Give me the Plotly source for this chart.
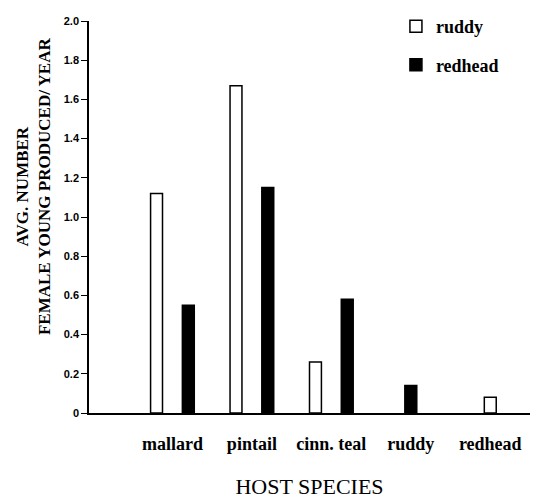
import plotly.graph_objects as go

categories = ["mallard", "pintail", "cinn. teal", "ruddy", "redhead"]
ruddy_values = [1.12, 1.67, 0.26, None, 0.08]
redhead_values = [0.55, 1.15, 0.58, 0.14, None]
y_tick_vals = [0, 0.2, 0.4, 0.6, 0.8, 1.0, 1.2, 1.4, 1.6, 1.8, 2.0]
y_tick_text = ["0", "0.2", "0.4", "0.6", "0.8", "1.0", "1.2", "1.4", "1.6", "1.8", "2.0"]
y_title = "AVG. NUMBER<br>FEMALE YOUNG PRODUCED/ YEAR"
x_title = "HOST SPECIES"

BAR_W = 0.15
HALF_GAP = 0.2  # centre offset of each bar in a pair


def offsets(own, other, side):
    out = []
    for a, b in zip(own, other):
        if b is None:
            out.append(-BAR_W / 2)
        else:
            out.append(side * HALF_GAP - BAR_W / 2)
    return out


serif = "Liberation Serif, Times New Roman, serif"
sans = "Liberation Sans, Arial, sans-serif"

fig = go.Figure()
fig.add_trace(go.Bar(
    x=categories, y=ruddy_values, name="ruddy",
    width=BAR_W, offset=offsets(ruddy_values, redhead_values, -1),
    marker=dict(color="white", line=dict(color="black", width=1.5)),
    legendgroup="a",
))
fig.add_trace(go.Bar(
    x=categories, y=redhead_values, name="redhead",
    width=BAR_W, offset=offsets(redhead_values, ruddy_values, 1),
    marker=dict(color="black", line=dict(color="black", width=1.5)),
    legendgroup="b",
))

# page has an 8px body margin, so the figure is 8px smaller than the window
fig.update_layout(
    width=537, height=491,
    margin=dict(l=81, r=15, t=13, b=86, autoexpand=False),
    plot_bgcolor="white", paper_bgcolor="white",
    barmode="overlay",
    showlegend=True,
    legend=dict(x=0.696, y=1.033, xanchor="left", yanchor="top",
                font=dict(family=serif, size=18, color="black", weight="bold"),
                tracegroupgap=12, itemwidth=30, bgcolor="rgba(0,0,0,0)"),
    xaxis=dict(
        range=[-1.05, 4.5], showline=True, linecolor="black", linewidth=1.5,
        ticks="outside", ticklen=14, tickcolor="rgba(0,0,0,0)",
        tickfont=dict(family=serif, size=18, color="black", weight="bold"),
        title=dict(text=x_title, standoff=26,
                   font=dict(family=serif, size=22, color="black")),
        showgrid=False, zeroline=False, automargin=False,
    ),
    yaxis=dict(
        range=[0, 2.0], showline=True, linecolor="black", linewidth=1.5,
        tickvals=y_tick_vals, ticktext=y_tick_text,
        ticks="outside", ticklen=6, tickcolor="black", tickwidth=1.2,
        tickfont=dict(family=sans, size=11, color="black", weight="bold"),
        showgrid=False, zeroline=False, automargin=False,
    ),
    annotations=[dict(
        text=y_title, textangle=-90, xref="paper", yref="paper",
        x=-0.127, y=0.579, xanchor="center", yanchor="middle", showarrow=False,
        font=dict(family=serif, size=17, color="black", weight="bold"),
    )],
)

fig.write_html("out.html")
